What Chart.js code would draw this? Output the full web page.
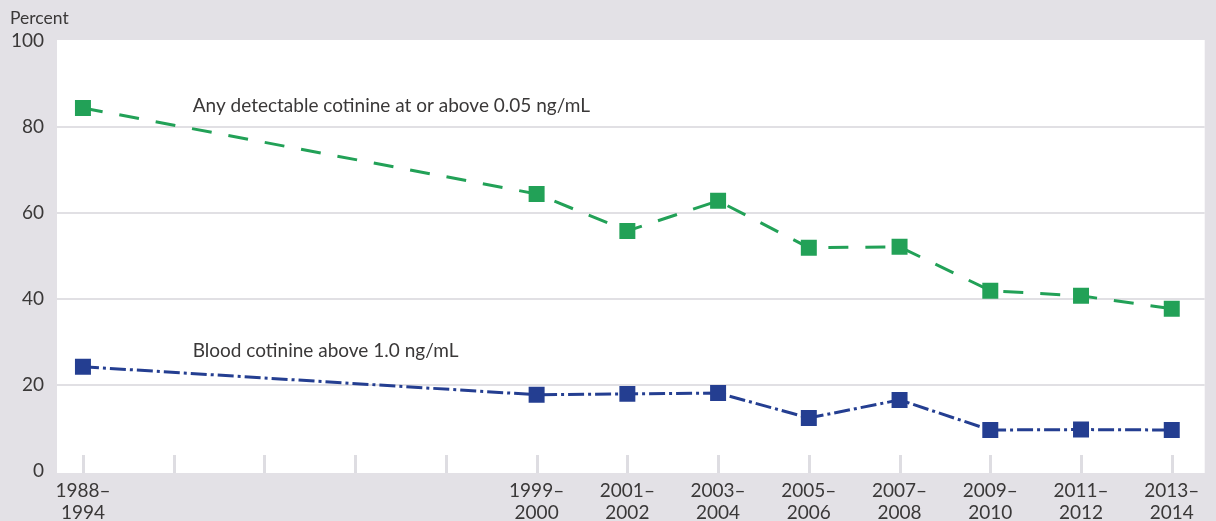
<!DOCTYPE html>
<html>
<head>
<meta charset="utf-8">
<script src="https://cdn.jsdelivr.net/npm/chart.js@4.4.0/dist/chart.umd.min.js"></script>
<style>
  html, body { margin: 0; padding: 0; background: #e3e1e6; }
  #wrap { position: relative; width: 1216px; height: 521px; }
</style>
</head>
<body>
<div id="wrap"><canvas id="cotinineChart" width="1216" height="521"></canvas></div>
<script>
// Survey periods, one slot per tick (blank slots have no survey)
const periods = [
  ['1988–', '1994'], '', '', '', '',
  ['1999–', '2000'], ['2001–', '2002'], ['2003–', '2004'], ['2005–', '2006'],
  ['2007–', '2008'], ['2009–', '2010'], ['2011–', '2012'], ['2013–', '2014']
];
const anyDetectable = [84.4, null, null, null, null, 64.4, 55.8, 62.8, 51.9, 52.1, 41.9, 40.7, 37.7];
const above1ng = [24.2, null, null, null, null, 17.7, 17.9, 18.1, 12.3, 16.5, 9.5, 9.6, 9.5];
const yTicks = [0, 20, 40, 60, 80, 100];

const GREEN = '#22a157';
const BLUE = '#243e91';
const TEXT = '#3a3838';
const FONT = 'Lato, "Open Sans", sans-serif';

function toPoints(arr) {
  return arr.map((v, i) => (v === null ? null : { x: i, y: v })).filter(p => p);
}

// white plot panel + tick marks inside bottom + series captions
const panelPlugin = {
  id: 'panel',
  beforeDraw(chart) {
    const { ctx, chartArea: a } = chart;
    ctx.save();
    ctx.fillStyle = '#ffffff';
    ctx.fillRect(a.left, a.top, a.right - a.left, a.bottom - a.top);
    ctx.restore();
  },
  beforeDatasetsDraw(chart) {
    const { ctx, chartArea: a, scales } = chart;
    ctx.save();
    ctx.strokeStyle = '#dedde2';
    ctx.lineWidth = 3;
    periods.forEach((p, i) => {
      const x = Math.round(scales.x.getPixelForValue(i)) + 0.5;
      ctx.beginPath();
      ctx.moveTo(x, a.bottom);
      ctx.lineTo(x, a.bottom - 18);
      ctx.stroke();
    });
    ctx.fillStyle = TEXT;
    ctx.font = '19px ' + FONT;
    ctx.textBaseline = 'middle';
    ctx.fillText('Any detectable cotinine at or above 0.05 ng/mL',
      scales.x.getPixelForValue(1.21), scales.y.getPixelForValue(84.9));
    ctx.fillText('Blood cotinine above 1.0 ng/mL',
      scales.x.getPixelForValue(1.21), scales.y.getPixelForValue(27.9));
    ctx.font = '17.5px ' + FONT;
    ctx.textAlign = 'left';
    ctx.fillText('Percent', 10, 18);
    ctx.restore();
  }
};

new Chart(document.getElementById('cotinineChart').getContext('2d'), {
  type: 'line',
  data: {
    datasets: [
      {
        label: 'Any detectable cotinine at or above 0.05 ng/mL',
        data: toPoints(anyDetectable),
        borderColor: GREEN,
        backgroundColor: GREEN,
        borderWidth: 3,
        borderDash: [20, 17],
        pointStyle: 'rect',
        pointRadius: 11.3,
        pointBorderWidth: 0,
        tension: 0
      },
      {
        label: 'Blood cotinine above 1.0 ng/mL',
        data: toPoints(above1ng),
        borderColor: BLUE,
        backgroundColor: BLUE,
        borderWidth: 3,
        borderDash: [16, 4, 3, 4],
        pointStyle: 'rect',
        pointRadius: 11.3,
        pointBorderWidth: 0,
        tension: 0
      }
    ]
  },
  options: {
    responsive: false,
    animation: false,
    layout: { padding: { top: 40, right: 9, left: 0, bottom: 0 } },
    plugins: { legend: { display: false }, tooltip: { enabled: false } },
    scales: {
      x: {
        type: 'linear',
        min: -0.286,
        max: 12.363,
        afterBuildTicks: s => { s.ticks = periods.map((p, i) => ({ value: i })); },
        afterFit: s => { s.height = 48; },
        grid: { display: false, drawTicks: false },
        border: { display: false },
        ticks: {
          autoSkip: false,
          maxRotation: 0,
          padding: 6,
          color: TEXT,
          font: { family: FONT, size: 19, lineHeight: 1.2 },
          callback: (v) => periods[v]
        }
      },
      y: {
        min: -0.5,
        max: 100.2,
        afterBuildTicks: s => { s.ticks = yTicks.map(v => ({ value: v })); },
        afterFit: s => { s.width = 57; },
        grid: {
          drawTicks: false,
          lineWidth: 2,
          color: c => (c.tick.value === 0 || c.tick.value === 100 ? 'rgba(0,0,0,0)' : '#e1e0e4')
        },
        border: { display: false },
        ticks: {
          padding: 13,
          color: TEXT,
          font: { family: FONT, size: 19 },
          callback: v => v
        }
      }
    }
  },
  plugins: [panelPlugin]
});
</script>
</body>
</html>
